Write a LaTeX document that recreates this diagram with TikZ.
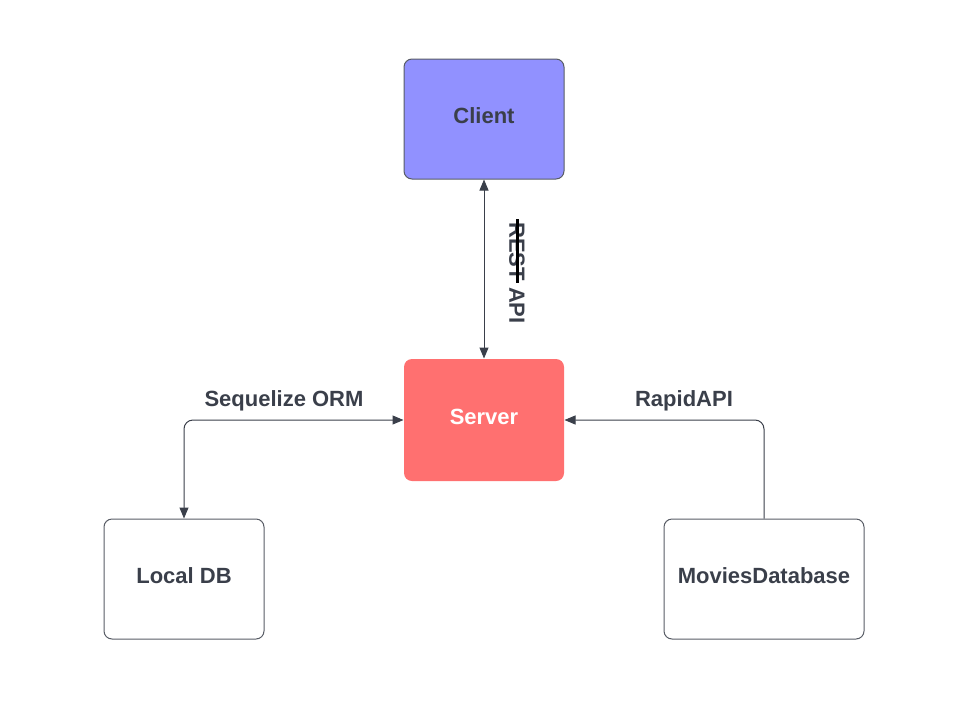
\documentclass[tikz,border=0pt]{standalone}
\usepackage{fontspec}
\setmainfont{Liberation Sans}
\usetikzlibrary{arrows.meta}
\definecolor{inkgray}{HTML}{3A3F4A}
\definecolor{clientblue}{HTML}{9191FF}
\definecolor{serverred}{HTML}{FF7070}

\begin{document}
\begin{tikzpicture}[
  x=1pt, y=-1pt,
  >={Triangle[length=11pt,width=9pt]},
  every node/.style = {font=\fontsize{22}{26}\selectfont\bfseries, text=inkgray},
  box/.style = {draw=inkgray!85, line width=1pt, rounded corners=8pt, text depth=6pt, minimum width=160pt, minimum height=120pt},
  link/.style = {inkgray, line width=1pt, rounded corners=9pt}
]
  \useasboundingbox (0,0) rectangle (966,715);
  \node[box, fill=clientblue] (client) at (484,119) {Client};
  \node[box, fill=serverred, draw=none, minimum height=122pt, text=white] (server) at (484,420) {Server};
  \node[box] (localdb) at (184,579) {Local DB};
  \node[box, minimum width=200pt] (movies) at (764,579) {MoviesDatabase};

  \draw[link, <->] (client.south) -- (server.north);
  \draw[link, <->] (localdb.north) |- (server.west);
  \draw[link, ->] (movies.north) |- (server.east);

  \node[rotate=-90] (restlabel) at (517,273) {REST API};
  \draw[black, line width=3pt] (517,219) -- (517,283);
  \node (ormlabel) at (284,401) {Sequelize ORM};
  \node (rapidlabel) at (684,401) {RapidAPI};
\end{tikzpicture}
\end{document}
